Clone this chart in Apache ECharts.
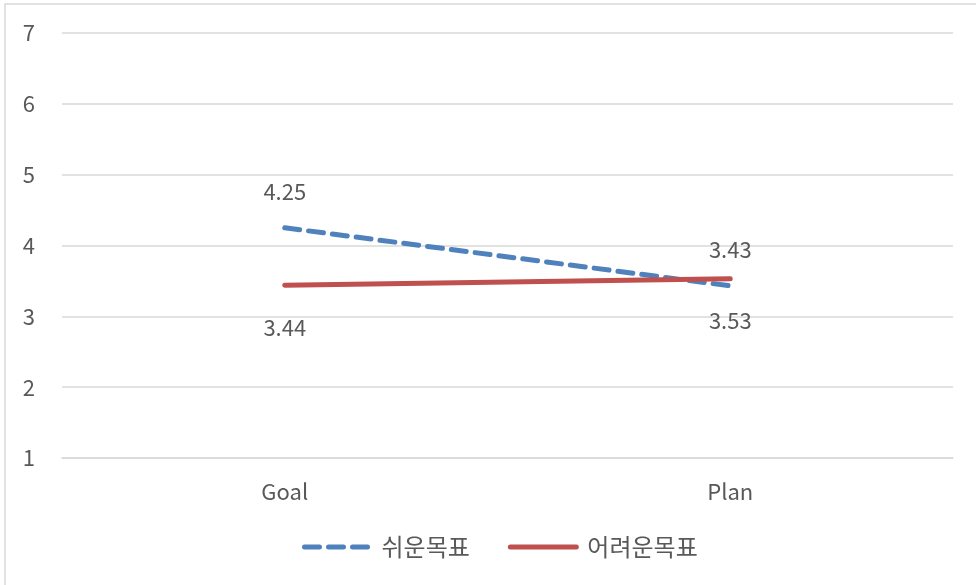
<!DOCTYPE html>
<html>
<head>
<meta charset="utf-8">
<script src="https://cdn.jsdelivr.net/npm/echarts@6/dist/echarts.min.js"></script>
<style>
  html, body { margin: 0; padding: 0; background: #fff; }
  #chart { width: 976px; height: 585px; }
</style>
</head>
<body>
<div id="chart"></div>
<script>
// Categories and series values
const categories = ['Goal', 'Plan'];
const easyGoal = [4.25, 3.43];   // 쉬운목표
const hardGoal = [3.44, 3.53];   // 어려운목표
const seriesNames = ['쉬운목표', '어려운목표'];
const yTicks = [1, 2, 3, 4, 5, 6, 7];

const textColor = '#595959';
const font = '"Noto Sans CJK KR", "Noto Sans", sans-serif';

const chart = echarts.init(document.getElementById('chart'), null, { renderer: 'canvas' });

const labelStyle = {
  show: true,
  fontSize: 22,
  color: textColor,
  fontFamily: font
};

chart.setOption({
  backgroundColor: '#ffffff',
  animation: false,
  textStyle: { fontFamily: font, color: textColor },
  graphic: [{
    type: 'rect',
    shape: { x: 5, y: 4, width: 1000, height: 620 },
    style: { fill: 'none', stroke: '#d9d9d9', lineWidth: 1.5 },
    silent: true,
    z: -1
  }],
  grid: { left: 62, right: 23, top: 33, bottom: 127, containLabel: false },
  legend: {
    data: seriesNames,
    bottom: 21,
    left: 297,
    itemWidth: 66,
    itemHeight: 14,
    itemGap: 38,
    itemStyle: { opacity: 0 },
    lineStyle: { width: 5, cap: 'round' },
    textStyle: { fontSize: 24, color: textColor, fontFamily: font, padding: [0, 0, 0, 6] }
  },
  xAxis: {
    type: 'category',
    data: categories,
    boundaryGap: true,
    axisLine: { show: true, lineStyle: { color: '#d9d9d9', width: 1.5 } },
    axisTick: { show: false },
    axisLabel: { fontSize: 22, color: textColor, margin: 23, fontFamily: font }
  },
  yAxis: {
    type: 'value',
    min: yTicks[0],
    max: yTicks[yTicks.length - 1],
    interval: 1,
    axisLine: { show: false },
    axisTick: { show: false },
    axisLabel: { fontSize: 22, color: textColor, margin: 27, fontFamily: font },
    splitLine: { lineStyle: { color: '#d9d9d9', width: 1.5 } }
  },
  series: [
    {
      name: seriesNames[0],
      type: 'line',
      data: easyGoal,
      symbol: 'circle',
      symbolSize: 0,
      color: '#4F81BD',
      lineStyle: { color: '#4F81BD', width: 5, type: [15, 9], cap: 'round' },
      label: Object.assign({ position: 'top', distance: 25 }, labelStyle)
    },
    {
      name: seriesNames[1],
      type: 'line',
      data: hardGoal,
      symbol: 'circle',
      symbolSize: 0,
      color: '#C0504D',
      lineStyle: { color: '#C0504D', width: 5, type: 'solid', cap: 'round' },
      label: Object.assign({ position: 'bottom', distance: 31 }, labelStyle)
    }
  ]
});
</script>
</body>
</html>
